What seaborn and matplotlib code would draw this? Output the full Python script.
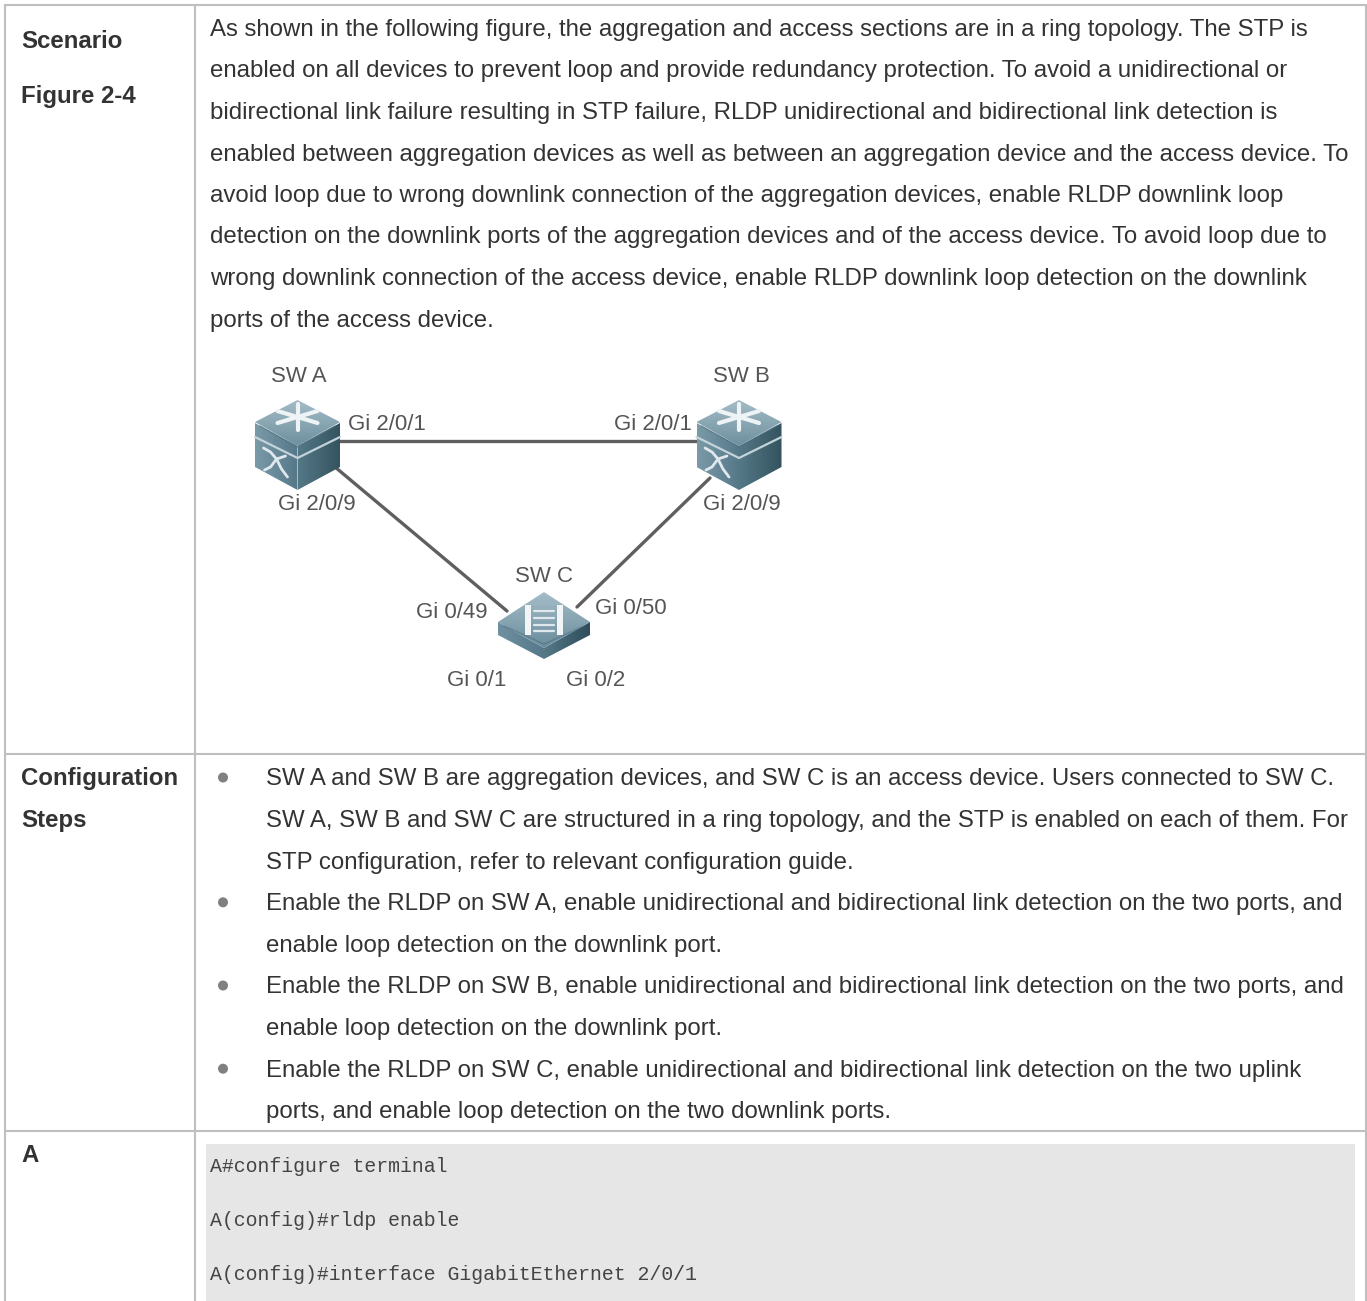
import numpy as np
import pandas as pd
import seaborn as sns
import matplotlib.pyplot as plt
from matplotlib.patches import Polygon, Circle, Rectangle
from matplotlib.colors import LinearSegmentedColormap

# texte du document
scenario_lines = [
    "As shown in the following figure, the aggregation and access sections are in a ring topology. The STP is",
    "enabled on all devices to prevent loop and provide redundancy protection. To avoid a unidirectional or",
    "bidirectional link failure resulting in STP failure, RLDP unidirectional and bidirectional link detection is",
    "enabled between aggregation devices as well as between an aggregation device and the access device. To",
    "avoid loop due to wrong downlink connection of the aggregation devices, enable RLDP downlink loop",
    "detection on the downlink ports of the aggregation devices and of the access device. To avoid loop due to",
    "wrong downlink connection of the access device, enable RLDP downlink loop detection on the downlink",
    "ports of the access device.",
]
step_lines = [
    "SW A and SW B are aggregation devices, and SW C is an access device. Users connected to SW C.",
    "SW A, SW B and SW C are structured in a ring topology, and the STP is enabled on each of them. For",
    "STP configuration, refer to relevant configuration guide.",
    "Enable the RLDP on SW A, enable unidirectional and bidirectional link detection on the two ports, and",
    "enable loop detection on the downlink port.",
    "Enable the RLDP on SW B, enable unidirectional and bidirectional link detection on the two ports, and",
    "enable loop detection on the downlink port.",
    "Enable the RLDP on SW C, enable unidirectional and bidirectional link detection on the two uplink",
    "ports, and enable loop detection on the two downlink ports.",
]
step_bullets = [0, 3, 5, 7]
code_lines = ["A#configure terminal", "A(config)#rldp enable", "A(config)#interface GigabitEthernet 2/0/1"]

# schema : liens et etiquettes
link_names = ["A-B", "A-B", "A-C", "A-C", "B-C", "B-C"]
link_x = [340, 697, 335, 507, 710, 577]
link_y = [441, 441, 467, 611, 478, 607]
port_labels = ["SW A", "SW B", "SW C", "Gi 2/0/1", "Gi 2/0/1", "Gi 2/0/9", "Gi 2/0/9",
               "Gi 0/49", "Gi 0/50", "Gi 0/1", "Gi 0/2"]
port_x = [299, 741, 544, 387, 653, 317, 742, 452, 631, 477, 596]
port_y = [376, 376, 577, 424, 424, 504, 504, 613, 608, 681, 681]

TXT = "#333333"
BORDER = "#bfbfbf"
FS = 17.3

sns.set_theme(style="white")
plt.rcParams["font.family"] = ["Liberation Sans", "DejaVu Sans"]

fig = plt.figure(figsize=(13.67, 13.01), dpi=100)
ax = fig.add_axes([0, 0, 1, 1])
ax.axis("off")


def gradient(poly, c0, c1, horizontal=True):
    # degrade clippe sur un polygone
    xs = [p[0] for p in poly]
    ys = [p[1] for p in poly]
    cmap = LinearSegmentedColormap.from_list("g", [c0, c1])
    g = np.linspace(0, 1, 64).reshape(1, -1) if horizontal else np.linspace(0, 1, 64).reshape(-1, 1)
    im = ax.imshow(g, cmap=cmap, extent=[min(xs), max(xs), max(ys), min(ys)], aspect="auto", zorder=4)
    patch = Polygon(poly, closed=True, transform=ax.transData, fc="none", ec="none")
    ax.add_patch(patch)
    im.set_clip_path(patch)


def big_switch(cx):
    w = 42.5
    gradient([(cx - w, 423), (cx, 446), (cx, 490), (cx - w, 467)], "#7b9aa8", "#557889", True)
    gradient([(cx, 446), (cx + w, 423), (cx + w, 467), (cx, 490)], "#557887", "#34535f", True)
    gradient([(cx, 400), (cx + w, 422), (cx, 446), (cx - w, 422)], "#a3bcc7", "#6f909f", False)
    ax.plot([cx - w, cx, cx + w], [437, 458, 437], color="#c3d3da", lw=1.6, zorder=5)
    ax.plot([cx - w + 5, cx, cx + w - 5], [426, 447, 426], color="#4f7080", lw=1.0, alpha=0.6, zorder=5)
    # etoile sur le dessus
    for dx, dy in [(-20, -6), (20, -6), (-20, 6), (20, 6), (0, -13), (0, 13)]:
        ax.plot([cx, cx + dx], [417, 417 + dy], color="#eef3f5", lw=3.0, solid_capstyle="round", zorder=6)
    # croisement sur la face gauche
    ox = cx - 34
    ax.plot([ox, ox + 7, ox + 13, ox + 18, ox + 24], [448, 452, 459, 469, 477], color="#dfe8ec", lw=2.0, zorder=6)
    ax.plot([ox + 1, ox + 7, ox + 13, ox + 22], [470, 467, 459, 456], color="#dfe8ec", lw=2.0, zorder=6)


def small_switch(cx):
    w = 46
    gradient([(cx - w, 622), (cx, 648), (cx, 659), (cx - w, 635)], "#6f909f", "#55788a", True)
    gradient([(cx, 648), (cx + w, 622), (cx + w, 635), (cx, 659)], "#557887", "#2f4d5c", True)
    gradient([(cx, 592), (cx + w, 622), (cx, 648), (cx - w, 622)], "#a5bdc8", "#6a8c9c", False)
    ax.plot([cx - w + 6, cx, cx + w - 6], [626, 644, 626], color="#4f7080", lw=1.0, alpha=0.6, zorder=5)
    ax.add_patch(Rectangle((cx - 19, 605), 6, 30, fc="#f2f5f6", ec="none", zorder=6))
    ax.add_patch(Rectangle((cx + 13, 605), 6, 30, fc="#f2f5f6", ec="none", zorder=6))
    for yy in [611, 618, 625, 631]:
        ax.plot([cx - 10, cx + 10], [yy, yy], color="#dfe8ec", lw=1.6, zorder=6)


# bordures du tableau
for x in [5, 195, 1366]:
    ax.plot([x, x], [4, 1301], color=BORDER, lw=1.5, solid_capstyle="butt", zorder=2)
for y in [4.5, 754, 1131]:
    ax.plot([4, 1367], [y, y], color=BORDER, lw=1.5, solid_capstyle="butt", zorder=2)

# colonne de gauche
for label, yb in [("Scenario", 47.5), ("Figure 2-4", 102.5), ("Configuration", 785.5), ("Steps", 827.5), ("A", 1162.5)]:
    ax.text(21, yb, label, fontsize=FS, fontweight="bold", color=TXT, va="baseline", ha="left")

# paragraphe du scenario
for i, line in enumerate(scenario_lines):
    ax.text(210, 36 + i * 41.5, line, fontsize=FS, color=TXT, va="baseline", ha="left")

# etapes
for i, line in enumerate(step_lines):
    ax.text(266, 785.5 + i * 41.6, line, fontsize=FS, color=TXT, va="baseline", ha="left")
    if i in step_bullets:
        ax.add_patch(Circle((223, 777.5 + i * 41.6), 5, fc="#808080", ec="none", zorder=3))

# bloc de code
ax.add_patch(Rectangle((206, 1144), 1149, 157, fc="#e6e6e6", ec="none", zorder=1))
for i, line in enumerate(code_lines):
    ax.text(210, 1172 + i * 54, line, fontsize=14.35, color="#444444", family="Liberation Mono",
            va="baseline", ha="left", zorder=3)

# liens du schema
links = pd.DataFrame({"link": link_names, "x": link_x, "y": link_y})
sns.lineplot(data=links, x="x", y="y", units="link", estimator=None, sort=False, color="#5f5f5f",
             lw=2.4, ax=ax, legend=False, zorder=3)
big_switch(297.5)
big_switch(739)
small_switch(544)

for name, x, y in zip(port_labels, port_x, port_y):
    ax.text(x, y, name, fontsize=16, color="#555555", ha="center", va="center", zorder=7)

ax.set_xlim(0, 1367)
ax.set_ylim(1301, 0)
ax.set_xlabel("")
ax.set_ylabel("")
fig.savefig("out.png", dpi=100, facecolor="white")
